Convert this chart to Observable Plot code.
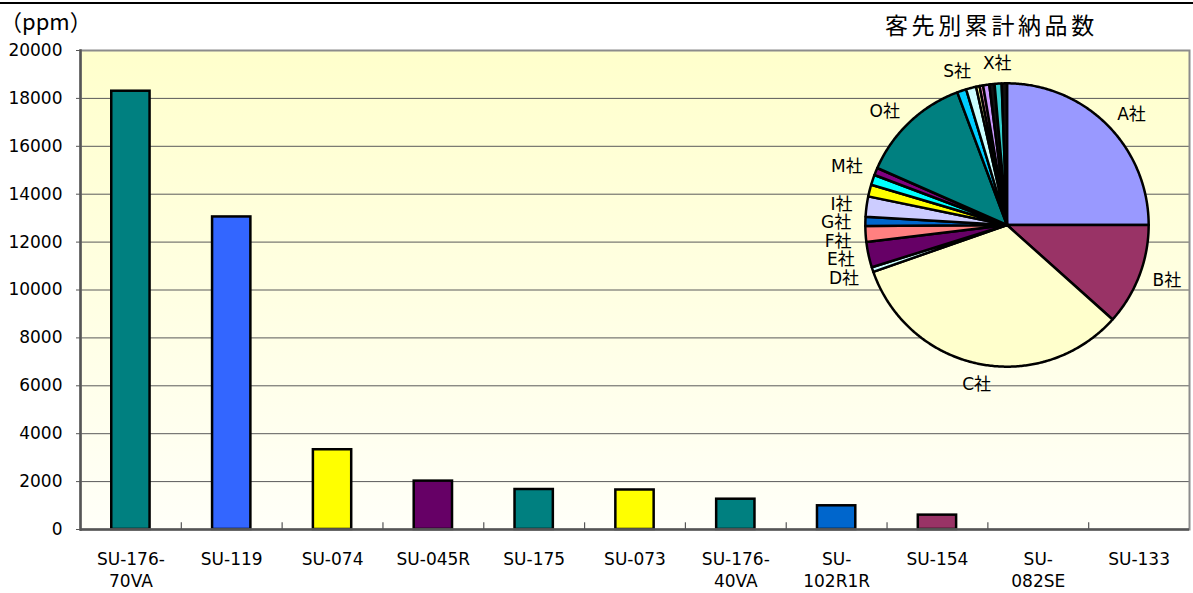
<!DOCTYPE html>
<html>
<head>
<meta charset="utf-8">
<script src="https://cdn.jsdelivr.net/npm/d3@7"></script>
<script src="https://cdn.jsdelivr.net/npm/@observablehq/plot@0.6"></script>
<style>
  html, body { margin: 0; padding: 0; background: #ffffff; }
  #wrap { position: relative; width: 1193px; height: 593px; overflow: hidden; font-family: "Noto Sans CJK JP", "Noto Sans", sans-serif; }
  #topline { position: absolute; left: 0; top: 2px; width: 1193px; height: 1.5px; background: #000; }
  #unit { position: absolute; left: 0px; top: 2px; font-size: 22px; line-height: 36px; color: #000; }
  #title { position: absolute; left: 885px; top: 6px; font-size: 23px; line-height: 36px; letter-spacing: 3.6px; color: #000; white-space: nowrap; }
  #bars, #pie { position: absolute; }
  #bars { left: 0; top: 0; width: 1193px; }
  #pie { left: 793.5px; top: 11.5px; width: 425px; height: 425px; }
  #pie svg, #bars svg { max-width: none; }
</style>
</head>
<body>
<div id="wrap">
  <div id="bars"></div>
  <div id="topline"></div>
  <div id="unit">（ppm）</div>
  <div id="title">客先別累計納品数</div>
  <div id="pie"></div>
</div>
<script>
// ---- bar chart data ----
const categories = ["SU-176-70VA", "SU-119", "SU-074", "SU-045R", "SU-175", "SU-073", "SU-176-40VA", "SU-102R1R", "SU-154", "SU-082SE", "SU-133"];
const tickLabels = ["SU-176-\n70VA", "SU-119", "SU-074", "SU-045R", "SU-175", "SU-073", "SU-176-\n40VA", "SU-\n102R1R", "SU-154", "SU-\n082SE", "SU-133"];
const values = [18300, 13050, 3330, 2020, 1670, 1650, 1265, 990, 600, 0, 0];
const barColors = ["#008080", "#3366FF", "#FFFF00", "#660066", "#008080", "#FFFF00", "#008080", "#0066CC", "#993366", "#008080", "#008080"];
const yTicks = [0, 2000, 4000, 6000, 8000, 10000, 12000, 14000, 16000, 18000, 20000];

// ---- pie chart data (share, %) ----
const pieNames  = ["A社", "B社", "C社", "D社", "E社", "F社", "G社", "I社", "J社", "K社", "M社", "O社", "S社", "T社", "U社", "V社", "W社", "R社", "X社", "Y社"];
const pieShares = [25.0, 11.6, 33.0, 0.55, 2.9, 1.8, 1.05, 2.3, 1.35, 1.15, 0.85, 12.7, 1.05, 1.15, 0.4, 0.4, 0.7, 0.6, 0.8, 0.6];
const pieColors = ["#9999FF", "#993366", "#FFFFCC", "#CCFFFF", "#660066", "#FF8080", "#0066CC", "#CCCCFF", "#FFFF00", "#00FFFF", "#800080", "#008080", "#00CCFF", "#CCFFFF", "#FFFF99", "#FF99CC", "#CC99FF", "#111111", "#33CCCC", "#111111"];
const pieLabelShown = ["A社", "B社", "C社", "D社", "E社", "F社", "G社", "I社", "M社", "O社", "S社", "X社"];

const latinFont = "'DejaVu Sans', 'Noto Sans CJK JP', sans-serif";

// ---- bar chart ----
const barData = categories.map((c, i) => ({name: c, value: values[i], color: barColors[i]}));
const plotLeft = 80, plotRight = 1189, width = 1193, height = 593;
const step = (plotRight - plotLeft) / categories.length;

const gradientDefs = () => {
  const defs = d3.create("svg:defs");
  const g = defs.append("linearGradient").attr("id", "bgGrad")
    .attr("x1", 0).attr("x2", 0).attr("y1", 0).attr("y2", 1);
  g.append("stop").attr("offset", "0%").attr("stop-color", "#FFFFCC");
  g.append("stop").attr("offset", "100%").attr("stop-color", "#FFFFF8");
  return defs.node();
};

const bars = Plot.plot({
  width, height,
  marginLeft: plotLeft, marginRight: width - plotRight, marginTop: 50, marginBottom: 64,
  x: {domain: categories, paddingInner: 0.62, paddingOuter: 0.31, round: false, label: null},
  y: {domain: [0, 20000], label: null},
  color: {type: "identity"},
  style: {fontFamily: latinFont, fontSize: "17px", color: "#000", background: "transparent"},
  marks: [
    gradientDefs,
    Plot.frame({fill: "url(#bgGrad)", stroke: null}),
    Plot.gridY(yTicks, {stroke: "#5a5a5a", strokeOpacity: 1, strokeWidth: 1}),
    Plot.barY(barData.filter(d => d.value > 0), {x: "name", y: "value", fill: "color", stroke: "#000", strokeWidth: 2.5}),
    Plot.frame({stroke: "#8c8c8c", strokeWidth: 2}),
    Plot.frame({anchor: "left", stroke: "#555", strokeWidth: 2.5}),
    Plot.ruleY([0], {stroke: "#555", strokeWidth: 2.5}),
    Plot.ruleX(categories.slice(1), {x: d => d, y1: 0, y2: 280, dx: -step / 2, stroke: "#555", strokeWidth: 1.2}),
    Plot.axisY({ticks: yTicks, tickSize: 4, tickPadding: 14, tickFormat: d => String(d), stroke: "#555"}),
    Plot.axisX({tickSize: 0, tickPadding: 20, lineHeight: 1.3, letterSpacing: 0.6, tickFormat: d => tickLabels[categories.indexOf(d)]})
  ]
});
document.getElementById("bars").appendChild(bars);

// ---- pie chart ----
const pieData = pieNames.map((n, i) => ({name: n, value: pieShares[i], color: pieColors[i]}));
const arcs = d3.pie().sort(null).value(d => d.value).startAngle(0).endAngle(2 * Math.PI)(pieData);
const piePts = [];
arcs.forEach(a => {
  const n = Math.max(2, Math.ceil((a.endAngle - a.startAngle) / 0.01));
  piePts.push({name: a.data.name, color: a.data.color, x: 0, y: 0});
  for (let k = 0; k <= n; k++) {
    const t = a.startAngle + (a.endAngle - a.startAngle) * k / n;
    piePts.push({name: a.data.name, color: a.data.color, x: Math.sin(t), y: Math.cos(t)});
  }
  piePts.push({name: a.data.name, color: a.data.color, x: 0, y: 0});
});
const labelR = 1.1;
const pieLabels = arcs.filter(a => pieLabelShown.includes(a.data.name)).map(a => {
  const m = (a.startAngle + a.endAngle) / 2;
  const sx = Math.sin(m), cy = Math.cos(m);
  const side = sx > 0.35 ? "right" : sx < -0.35 ? "left" : (cy > 0 ? "top" : "bottom");
  return {name: a.data.name, x: labelR * sx, y: labelR * cy, side};
});
// keep left-side labels from piling onto each other (dodge downward, like Excel's best fit)
const leftLabels = pieLabels.filter(d => d.side === "left").sort((a, b) => b.y - a.y);
const minGap = 0.13;
for (let i = 1; i < leftLabels.length; i++) {
  if (leftLabels[i - 1].y - leftLabels[i].y < minGap) leftLabels[i].y = leftLabels[i - 1].y - minGap;
}
const textOpts = {x: "x", y: "y", text: "name", fill: "#000", fontSize: 17};

const pie = Plot.plot({
  width: 425, height: 425, margin: 0,
  x: {domain: [-1.5, 1.5], axis: null},
  y: {domain: [-1.5, 1.5], axis: null},
  color: {type: "identity"},
  style: {fontFamily: latinFont, fontSize: "17px", color: "#000", background: "transparent", overflow: "visible"},
  marks: [
    Plot.line(piePts, {x: "x", y: "y", z: "name", fill: "color", stroke: "#000", strokeWidth: 2.5, strokeLinejoin: "round"}),
    Plot.text(pieLabels.filter(d => d.side === "right"), {...textOpts, textAnchor: "start"}),
    Plot.text(leftLabels, {...textOpts, textAnchor: "end"}),
    Plot.text(pieLabels.filter(d => d.side === "top"), {...textOpts, textAnchor: "middle", lineAnchor: "bottom"}),
    Plot.text(pieLabels.filter(d => d.side === "bottom"), {...textOpts, textAnchor: "middle", lineAnchor: "top"})
  ]
});
document.getElementById("pie").appendChild(pie);
</script>
</body>
</html>
